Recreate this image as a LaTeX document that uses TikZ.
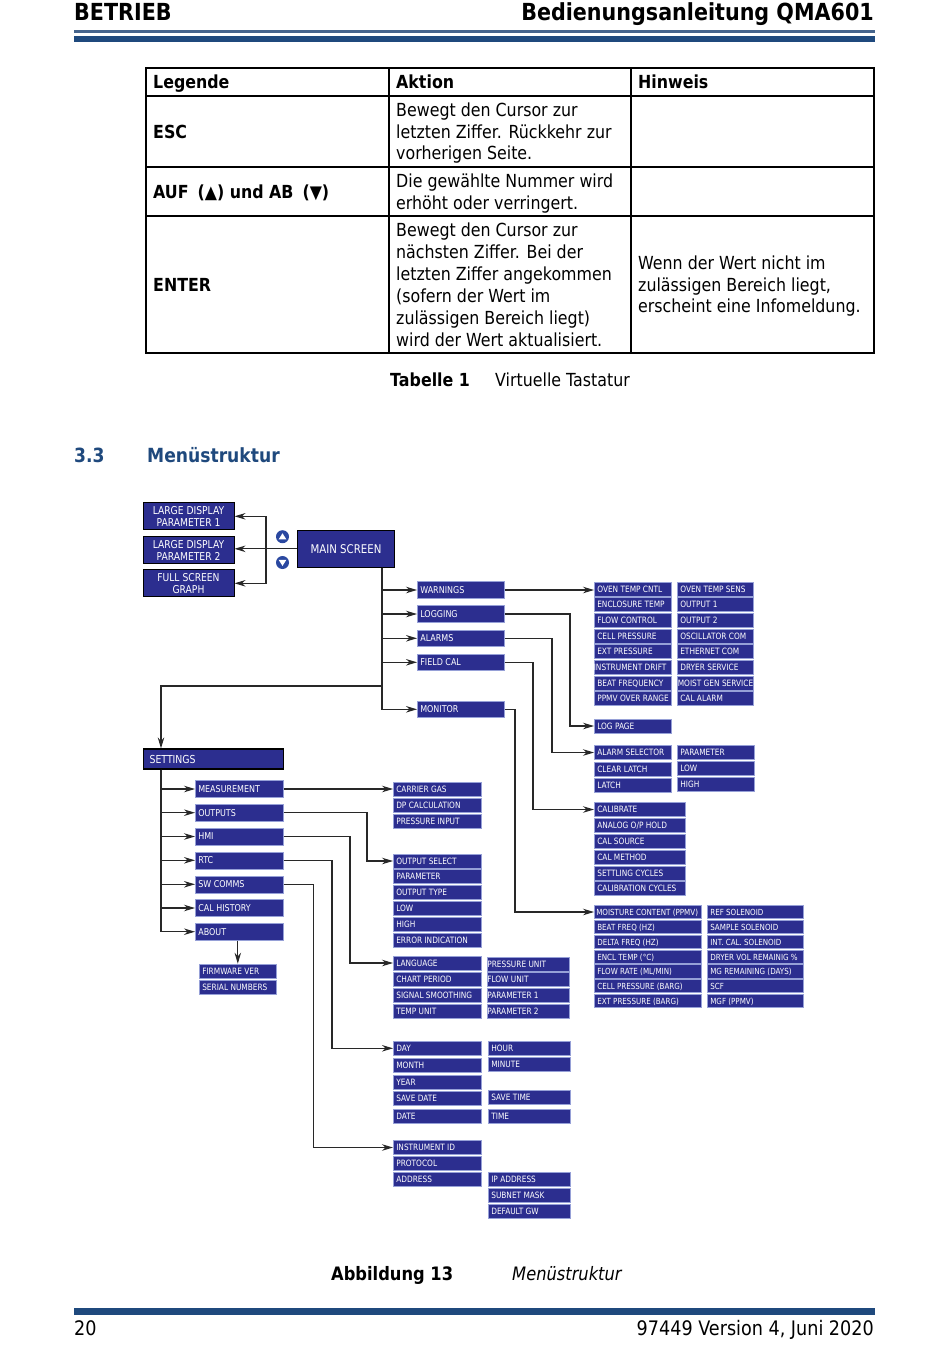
\documentclass[tikz,border=0pt]{standalone}
\usepackage{fontspec}
\setmainfont{DejaVu Sans}[FakeStretch=0.88]
\newfontfamily\bxf{DejaVu Sans}[FakeStretch=0.85]
\usetikzlibrary{arrows.meta,calc}
\definecolor{hdrblue}{RGB}{31,73,125}
\definecolor{hdrthin}{RGB}{70,100,140}
\definecolor{boxblue}{RGB}{44,46,143}
\definecolor{boxedge}{RGB}{150,160,215}
\definecolor{iconblue}{RGB}{42,72,160}
\definecolor{linegray}{RGB}{40,40,40}
\newcommand{\bx}[5]{\node[bxbase,#1] (#2) at (#3) {\makebox[#4pt][l]{\hspace{3pt}#5}};}
\newcommand{\tsz}{\fontsize{18}{21.6}\selectfont}
\tikzset{
  bxbase/.style={anchor=west, fill=boxblue, draw=boxedge, line width=0.6pt, text=white, inner xsep=0pt, inner ysep=0pt},
  sb/.style={font=\bxf\fontsize{8.7}{9}\selectfont, minimum height=14pt, text height=6.4pt, text depth=0pt},
  sbt/.style={font=\bxf\fontsize{8.4}{9}\selectfont, minimum height=13.5pt, text height=6.2pt, text depth=0pt},
  mb/.style={font=\bxf\fontsize{9.4}{10}\selectfont, minimum height=17pt, text height=6.9pt, text depth=0pt},
  lb/.style={mb, minimum height=16.5pt},
  bigbox/.style={fill=boxblue, draw=black, line width=1pt, text=white, align=center, inner sep=0pt, font=\bxf\fontsize{10.8}{12}\selectfont},
  arr/.style={draw=linegray, line width=1.1pt, -{Stealth[length=11pt,width=6.5pt]}},
  tl/.style={anchor=base west, inner sep=0pt, font=\tsz},
  tb/.style={tl, font=\tsz\bfseries},
  grid/.style={line width=1.5pt, draw=black}
}
\begin{document}
\begin{tikzpicture}[x=1pt,y=-1pt]
\useasboundingbox (0,0) rectangle (950,1360);
\fill[white] (0,0) rectangle (950,1360);

% ---------- header ----------
\node[anchor=base west, inner sep=0pt, font=\fontsize{23.5}{26}\selectfont\bfseries] (hl) at (74,20.5) {BETRIEB};
\node[anchor=base east, inner sep=0pt, font=\fontsize{23.5}{26}\selectfont\bfseries] (hr) at (874,20.5) {Bedienungsanleitung QMA601};
\fill[hdrthin] (74,30) rectangle (875,32.5);
\fill[hdrblue] (74,35.5) rectangle (875,41.5);

% ---------- table ----------
\draw[grid] (146,68) rectangle (874,353);
\draw[grid] (389,68) -- (389,353) (631,68) -- (631,353)
  (146,96) -- (874,96) (146,167) -- (874,167) (146,216) -- (874,216);
\node[tb] (th1) at (153,88.5) {Legende};
\node[tb] (th2) at (396,88.5) {Aktion};
\node[tb] (th3) at (638,88.5) {Hinweis};
\node[tb] (tk1) at (153,138.5) {ESC};
\node[tb] (tk2) at (153,198.5) {AUF\enspace(▲) und AB\enspace(▼)};
\node[tb] (tk3) at (153,291.5) {ENTER};
\foreach \t [count=\i] in {{Bewegt den Cursor zur}, {letzten Ziffer. Rückkehr zur}, {vorherigen Seite.}}
  \node[tl] (ea\i) at (396,{116.5+(\i-1)*21.6}) {\t};
\foreach \t [count=\i] in {{Die gewählte Nummer wird}, {erhöht oder verringert.}}
  \node[tl] (ua\i) at (396,{187.5+(\i-1)*21.6}) {\t};
\foreach \t [count=\i] in {{Bewegt den Cursor zur}, {nächsten Ziffer. Bei der}, {letzten Ziffer angekommen}, {(sofern der Wert im}, {zulässigen Bereich liegt)}, {wird der Wert aktualisiert.}}
  \node[tl] (na\i) at (396,{236.5+(\i-1)*21.9}) {\t};
\foreach \t [count=\i] in {{Wenn der Wert nicht im}, {zulässigen Bereich liegt,}, {erscheint eine Infomeldung.}}
  \node[tl] (nh\i) at (638,{269.5+(\i-1)*21.6}) {\t};
\node[tb] (cap1a) at (390,386.5) {Tabelle 1};
\node[tl] (cap1b) at (495,386.5) {Virtuelle Tastatur};

% ---------- section ----------
\node[anchor=base west, inner sep=0pt, text=hdrblue, font=\fontsize{19.5}{22}\selectfont\bfseries] (sec1) at (74,462) {3.3};
\node[anchor=base west, inner sep=0pt, text=hdrblue, font=\fontsize{19.5}{22}\selectfont\bfseries] (sec2) at (147,462) {Menüstruktur};

% ---------- diagram: top left ----------
\node[bigbox, minimum width=91pt, minimum height=27pt] (ld1) at (188.5,516.3) {LARGE DISPLAY\\PARAMETER 1};
\node[bigbox, minimum width=91pt, minimum height=27pt] (ld2) at (188.5,550.3) {LARGE DISPLAY\\PARAMETER 2};
\node[bigbox, minimum width=91pt, minimum height=27pt] (fsg) at (188.5,583.3) {FULL SCREEN\\GRAPH};
\node[bigbox, minimum width=97pt, minimum height=37pt, font=\bxf\fontsize{12}{14}\selectfont] (ms) at (346,548.8) {MAIN SCREEN};
\node[circle, fill=iconblue, minimum size=13pt, inner sep=0pt] (up) at (282.5,536.7) {};
\node[circle, fill=iconblue, minimum size=13pt, inner sep=0pt] (dn) at (282.5,562.5) {};
\fill[white] ($(up.center)+(0,-3.4)$) -- ($(up.center)+(3.8,2.6)$) -- ($(up.center)+(-3.8,2.6)$) -- cycle;
\fill[white] ($(dn.center)+(0,3.4)$) -- ($(dn.center)+(3.8,-2.6)$) -- ($(dn.center)+(-3.8,-2.6)$) -- cycle;

% ---------- level 1 ----------
\bx{lb}{l1}{417,590}{87}{WARNINGS}
\bx{lb}{l2}{417,614}{87}{LOGGING}
\bx{lb}{l3}{417,638.3}{87}{ALARMS}
\bx{lb}{l4}{417,662.3}{87}{FIELD CAL}
\bx{lb}{l5}{417,709.3}{87}{MONITOR}

% warnings lists
\bx{sb}{a1}{594,589}{77}{OVEN TEMP CNTL}
\bx{sb}{a2}{594,604.5}{77}{ENCLOSURE TEMP}
\bx{sb}{a3}{594,620.1}{77}{FLOW CONTROL}
\bx{sb}{a4}{594,635.8}{77}{CELL PRESSURE}
\bx{sb}{a5}{594,651.5}{77}{EXT PRESSURE}
\bx{sb}{a6}{594,667.2}{77}{\hspace{-3.5pt}INSTRUMENT DRIFT}
\bx{sb}{a7}{594,682.9}{77}{BEAT FREQUENCY}
\bx{sb}{a8}{594,698.6}{77}{PPMV OVER RANGE}
\bx{sb}{b1}{677,589}{76}{OVEN TEMP SENS}
\bx{sb}{b2}{677,604.5}{76}{OUTPUT 1}
\bx{sb}{b3}{677,620.1}{76}{OUTPUT 2}
\bx{sb}{b4}{677,635.8}{76}{OSCILLATOR COM}
\bx{sb}{b5}{677,651.5}{76}{ETHERNET COM}
\bx{sb}{b6}{677,667.2}{76}{DRYER SERVICE}
\bx{sb}{b7}{677,682.9}{76}{\hspace{-2.5pt}MOIST GEN SERVICE}
\bx{sb}{b8}{677,698.6}{76}{CAL ALARM}

\bx{sb}{logp}{594,726}{77}{LOG PAGE}

\bx{sb}{c1}{594,752.5}{77}{ALARM SELECTOR}
\bx{sb}{c2}{594,768.8}{77}{CLEAR LATCH}
\bx{sb}{c3}{594,785.5}{77}{LATCH}
\bx{sb}{d1}{677,752}{77}{PARAMETER}
\bx{sb}{d2}{677,768.5}{77}{LOW}
\bx{sb}{d3}{677,784.5}{77}{HIGH}

\bx{sb}{e1}{594,809.5}{91}{CALIBRATE}
\bx{sb}{e2}{594,825.5}{91}{ANALOG O/P HOLD}
\bx{sb}{e3}{594,841.5}{91}{CAL SOURCE}
\bx{sb}{e4}{594,857.2}{91}{CAL METHOD}
\bx{sb}{e5}{594,873}{91}{SETTLING CYCLES}
\bx{sb}{e6}{594,888.7}{91}{CALIBRATION CYCLES}

\bx{sbt}{f1}{594,912}{107}{\hspace{-1pt}MOISTURE CONTENT (PPMV)}
\bx{sbt}{f2}{594,927}{107}{BEAT FREQ (HZ)}
\bx{sbt}{f3}{594,942}{107}{DELTA FREQ (HZ)}
\bx{sbt}{f4}{594,957}{107}{ENCL TEMP (°C)}
\bx{sbt}{f5}{594,971.5}{107}{FLOW RATE (ML/MIN)}
\bx{sbt}{f6}{594,986}{107}{CELL PRESSURE (BARG)}
\bx{sbt}{f7}{594,1001}{107}{EXT PRESSURE (BARG)}
\bx{sbt}{g1}{707,912}{96}{REF SOLENOID}
\bx{sbt}{g2}{707,927}{96}{SAMPLE SOLENOID}
\bx{sbt}{g3}{707,942}{96}{INT. CAL. SOLENOID}
\bx{sbt}{g4}{707,957}{96}{DRYER VOL REMAINIG \%}
\bx{sbt}{g5}{707,971.5}{96}{MG REMAINING (DAYS)}
\bx{sbt}{g6}{707,986}{96}{SCF}
\bx{sbt}{g7}{707,1001}{96}{MGF (PPMV)}

% ---------- settings ----------
\node[bxbase, draw=black, line width=1.2pt, font=\bxf\fontsize{11}{12}\selectfont, minimum height=20pt, text height=8pt, text depth=0pt] (set) at (143,759) {\makebox[140pt][l]{\hspace{6pt}SETTINGS}};

\bx{mb}{s1}{195,789}{88}{MEASUREMENT}
\bx{mb}{s2}{195,812.7}{88}{OUTPUTS}
\bx{mb}{s3}{195,836.5}{88}{HMI}
\bx{mb}{s4}{195,860.3}{88}{RTC}
\bx{mb}{s5}{195,884.3}{88}{SW COMMS}
\bx{mb}{s6}{195,908}{88}{CAL HISTORY}
\bx{mb}{s7}{195,931.7}{88}{ABOUT}

\bx{sb}{p1}{393,789.5}{88}{CARRIER GAS}
\bx{sb}{p2}{393,805}{88}{DP CALCULATION}
\bx{sb}{p3}{393,820.8}{88}{PRESSURE INPUT}

\bx{sb}{q1}{393,861}{88}{OUTPUT SELECT}
\bx{sb}{q2}{393,876.7}{88}{PARAMETER}
\bx{sb}{q3}{393,892.4}{88}{OUTPUT TYPE}
\bx{sb}{q4}{393,908.4}{88}{LOW}
\bx{sb}{q5}{393,924.3}{88}{HIGH}
\bx{sb}{q6}{393,940}{88}{ERROR INDICATION}

\bx{sb}{r1}{393,963}{88}{LANGUAGE}
\bx{sb}{r2}{393,979}{88}{CHART PERIOD}
\bx{sb}{r3}{393,995}{88}{SIGNAL SMOOTHING}
\bx{sb}{r4}{393,1011}{88}{TEMP UNIT}
\bx{sb}{u1}{487,964}{82}{\hspace{-3pt}PRESSURE UNIT}
\bx{sb}{u2}{487,979.5}{82}{\hspace{-3pt}FLOW UNIT}
\bx{sb}{u3}{487,995.5}{82}{\hspace{-3pt}PARAMETER 1}
\bx{sb}{u4}{487,1011.5}{82}{\hspace{-3pt}PARAMETER 2}

\bx{sb}{v1}{393,1048.3}{88}{DAY}
\bx{sb}{v2}{393,1065}{88}{MONTH}
\bx{sb}{v3}{393,1082}{88}{YEAR}
\bx{sb}{v4}{393,1098.3}{88}{SAVE DATE}
\bx{sb}{v5}{393,1116}{88}{DATE}
\bx{sb}{hr1}{488,1048.3}{82}{HOUR}
\bx{sb}{hr2}{488,1064}{82}{MINUTE}
\bx{sb}{hr3}{488,1097.3}{82}{SAVE TIME}
\bx{sb}{hr4}{488,1116}{82}{TIME}

\bx{sb}{k1}{393,1147.5}{88}{INSTRUMENT ID}
\bx{sb}{k2}{393,1163.3}{88}{PROTOCOL}
\bx{sb}{k3}{393,1179}{88}{ADDRESS}
\bx{sb}{m1}{488,1179}{82}{IP ADDRESS}
\bx{sb}{m2}{488,1195}{82}{SUBNET MASK}
\bx{sb}{m3}{488,1210.8}{82}{DEFAULT GW}

\bx{sb}{fw}{199,971}{77}{FIRMWARE VER}
\bx{sb}{sn}{199,987}{77}{SERIAL NUMBERS}

% ---------- connectors ----------
\coordinate (j) at (266,548.8);
\draw[arr] (ms.west) -- (ms.west -| ld2.east);
\draw[arr] (j) |- (ld1.east);
\draw[arr] (j) |- (fsg.east);

\coordinate (t1) at (382,567.5);
\foreach \n in {l1,l2,l3,l4,l5} \draw[arr] (t1) |- (\n.west);
\coordinate (sbr) at (161,686);
\draw[arr] (t1) |- (sbr) -- (sbr |- set.north);

\draw[arr] (l1.east) -- (l1.east -| a1.west);
\draw[arr] (l2.east) -| ($(logp.west)+(-24,0)$) -- (logp.west);
\draw[arr] (l3.east) -| ($(c1.west)+(-42,0)$) -- (c1.west);
\draw[arr] (l4.east) -| ($(e1.west)+(-61,0)$) -- (e1.west);
\draw[arr] (l5.east) -| ($(f1.west)+(-79,0)$) -- (f1.west);

\coordinate (t2) at (set.south -| sbr);
\foreach \n in {s1,s2,s3,s4,s5,s6,s7} \draw[arr] (t2) |- (\n.west);
\draw[arr] (s1.east) -- (s1.east -| p1.west);
\draw[arr] (s2.east) -| ($(q1.west)+(-26,0)$) -- (q1.west);
\draw[arr] (s3.east) -| ($(r1.west)+(-43,0)$) -- (r1.west);
\draw[arr] (s4.east) -| ($(v1.west)+(-61,0)$) -- (v1.west);
\draw[arr] (s5.east) -| ($(k1.west)+(-79.5,0)$) -- (k1.west);
\draw[arr] (fw.north |- s7.south) -- (fw.north);

% ---------- figure caption & footer ----------
\node[tb, font=\fontsize{18.5}{22}\selectfont\bfseries] (cap2a) at (331,1280) {Abbildung 13};
\node[tl, font=\fontsize{18.5}{22}\selectfont\itshape] (cap2b) at (512,1280) {Menüstruktur};
\fill[hdrblue] (74,1308) rectangle (875,1314.5);
\node[anchor=base west, inner sep=0pt, font=\fontsize{20}{24}\selectfont] (pg) at (74,1335) {20};
\node[anchor=base east, inner sep=0pt, font=\fontsize{20}{24}\selectfont] (ver) at (874,1335) {97449 Version 4, Juni 2020};
\end{tikzpicture}
\end{document}
